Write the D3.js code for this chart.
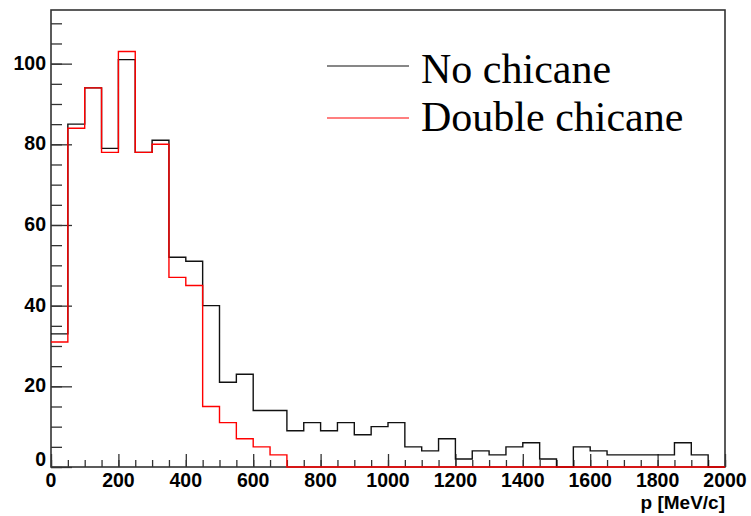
<!DOCTYPE html>
<html>
<head>
<meta charset="utf-8">
<script src="https://cdn.jsdelivr.net/npm/d3@7"></script>
<style>
  html, body { margin: 0; padding: 0; background: #fff; }
  svg { display: block; }
</style>
</head>
<body>
<svg id="chart" width="751" height="516"></svg>
<script>
// Momentum spectra, 50 MeV/c bins from 0 to 2000 MeV/c
const binWidth = 50;
const xMin = 0, xMax = 2000;
const noChicane = [33, 85, 94, 79, 101, 78, 81, 52, 51, 40,
                   21, 23, 14, 14, 9, 11, 9, 11, 8, 10,
                   11, 5, 4, 7, 2, 4, 3, 5, 6, 2,
                   0, 5, 4, 3, 3, 3, 3, 6, 3, 0];
const doubleChicane = [31, 84, 94, 78, 103, 78, 80, 47, 45, 15,
                       11, 7, 5, 3, 0, 0, 0, 0, 0, 0,
                       0, 0, 0, 0, 0, 0, 0, 0, 0, 0,
                       0, 0, 0, 0, 0, 0, 0, 0, 0, 0];
const seriesNames = ["No chicane", "Double chicane"];
const seriesColors = ["#111", "#ff0000"];
const xTicks = [0, 200, 400, 600, 800, 1000, 1200, 1400, 1600, 1800, 2000];
const yTicks = [0, 20, 40, 60, 80, 100];
const xTitle = "p [MeV/c]";

const svg = d3.select("#chart");
const frame = { left: 51, right: 725, top: 10, bottom: 467 };

const yMax = 1.1 * d3.max([...noChicane, ...doubleChicane]);
const x = d3.scaleLinear().domain([xMin, xMax]).range([frame.left, frame.right]);
const y = d3.scaleLinear().domain([0, yMax]).range([frame.bottom, frame.top]);

// Frame box
svg.append("rect")
  .attr("x", frame.left).attr("y", frame.top)
  .attr("width", frame.right - frame.left).attr("height", frame.bottom - frame.top)
  .attr("fill", "none").attr("stroke", "#333").attr("stroke-width", 1.6);

const tickFont = "'Liberation Sans', Arial, Helvetica, sans-serif";

// Y axis: major ticks every 20, minor every 5 (ticks point into the frame)
const gy = svg.append("g").attr("transform", `translate(${frame.left},0)`);
gy.call(d3.axisRight(y).tickValues(d3.range(0, yMax, 5)).tickSize(11).tickFormat(""));
gy.append("g").call(d3.axisRight(y).tickValues(yTicks).tickSize(21).tickFormat(""));
gy.selectAll(".domain").remove();
gy.selectAll("line").attr("stroke", "#333").attr("stroke-width", 1.3);
gy.selectAll(".ylab").data(yTicks).join("text")
  .attr("class", "ylab")
  .attr("x", -5)
  .attr("y", d => y(d) + (d === 0 ? -1 : 6))
  .attr("text-anchor", "end")
  .attr("font-family", tickFont).attr("font-weight", "bold").attr("font-size", 19.5)
  .attr("fill", "#000")
  .text(d => d);

// X axis: major ticks every 200, minor every 50 (pointing up)
const gx = svg.append("g").attr("transform", `translate(0,${frame.bottom})`);
gx.call(d3.axisTop(x).tickValues(d3.range(xMin, xMax + 1, binWidth)).tickSize(7).tickFormat(""));
gx.append("g").call(d3.axisTop(x).tickValues(xTicks).tickSize(13).tickFormat(""));
gx.selectAll(".domain").remove();
gx.selectAll("line").attr("stroke", "#333").attr("stroke-width", 1.3);
gx.selectAll(".xlab").data(xTicks).join("text")
  .attr("class", "xlab")
  .attr("x", d => x(d))
  .attr("y", 19.5)
  .attr("text-anchor", "middle")
  .attr("font-family", tickFont).attr("font-weight", "bold").attr("font-size", 19.5)
  .attr("fill", "#000")
  .text(d => d);

svg.append("text")
  .attr("x", frame.right).attr("y", 509)
  .attr("text-anchor", "end")
  .attr("font-family", tickFont).attr("font-weight", "bold").attr("font-size", 19)
  .attr("fill", "#000")
  .text(xTitle);

// Step outlines of the histograms
const stepLine = d3.line()
  .x(d => x(d[0]))
  .y(d => y(d[1]))
  .curve(d3.curveStepAfter);

function histPoints(values) {
  const pts = values.map((v, i) => [xMin + i * binWidth, v]);
  pts.push([xMax, values[values.length - 1]]);
  return pts;
}

[noChicane, doubleChicane].forEach((vals, i) => {
  svg.append("path")
    .attr("d", stepLine(histPoints(vals)))
    .attr("fill", "none")
    .attr("stroke", seriesColors[i])
    .attr("stroke-width", 1.4);
});

// Legend
const legendY = [66, 118];
const legendBaseline = [83, 131];
const legend = svg.append("g");
seriesNames.forEach((name, i) => {
  legend.append("line")
    .attr("x1", 327).attr("x2", 409)
    .attr("y1", legendY[i]).attr("y2", legendY[i])
    .attr("stroke", seriesColors[i]).attr("stroke-width", 1.2);
  legend.append("text")
    .attr("x", 421).attr("y", legendBaseline[i])
    .attr("font-family", "'Liberation Serif', 'Times New Roman', serif")
    .attr("font-size", 42)
    .attr("fill", "#000")
    .text(name);
});
</script>
</body>
</html>
